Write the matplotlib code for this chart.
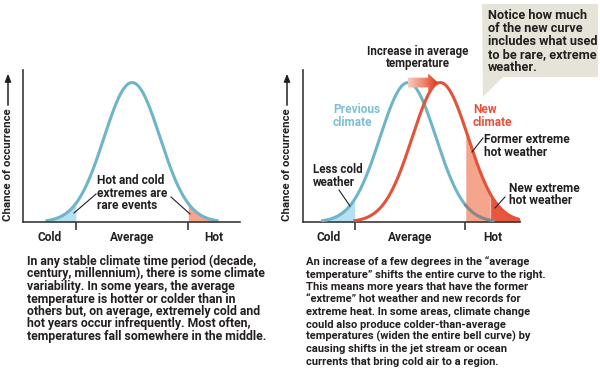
import matplotlib.pyplot as plt
import numpy as np
from matplotlib.patches import Polygon
from matplotlib.colors import LinearSegmentedColormap

plt.rcParams['font.family'] = ['Roboto', 'DejaVu Sans']
plt.rcParams['font.weight'] = 'bold'

# temperature measured in standard deviations of the previous climate
prev_mean = 0.0
new_mean = 1.15
spread = 1.0
curve_reach = 3.05          # where the bell curve fades to nothing
left_edges = [-2.0, 2.0]    # cold / hot extreme thresholds, left panel
right_edges = [-1.9, 2.05]  # same thresholds, right panel
record_edge = 2.95          # hottest weather the previous climate produced
left_xlim = (-3.9, 3.86)
right_xlim = (-3.75, 4.0)
region_labels = ['Cold', 'Average', 'Hot']

left_note = "Hot and cold\nextremes are\nrare events"
left_text = ("In any stable climate time period (decade,\n"
             "century, millennium), there is some climate\n"
             "variability. In some years, the average\n"
             "temperature is hotter or colder than in\n"
             "others but, on average, extremely cold and\n"
             "hot years occur infrequently. Most often,\n"
             "temperatures fall somewhere in the middle.")
right_text = ("An increase of a few degrees in the \u201caverage\n"
              "temperature\u201d shifts the entire curve to the right.\n"
              "This means more years that have the former\n"
              "\u201cextreme\u201d hot weather and new records for\n"
              "extreme heat. In some areas, climate change\n"
              "could also produce colder-than-average\n"
              "temperatures (widen the entire bell curve) by\n"
              "causing shifts in the jet stream or ocean\n"
              "currents that bring cold air to a region.")
callout = ("Notice how much\nof the new curve\nincludes what used\n"
           "to be rare, extreme\nweather.")

BLUE = '#6fb4c8'
BLUE_TEXT = '#7dc0d5'
BLUE_FILL = '#b4e0f3'
RED = '#e5523b'
SALMON = '#f4a58c'
DARK_RED = '#e8573d'
INK = '#231f20'
AXIS = '#3a3a3a'
FS = 8.6


def bell(x, mean):
    return np.exp(-0.5 * ((x - mean) / spread) ** 2)


def setup_panel(ax, xlim, edges):
    ax.set_xlim(*xlim)
    ax.set_ylim(0, 1.09)
    ax.patch.set_alpha(0)
    for side in ['top', 'right']:
        ax.spines[side].set_visible(False)
    for side in ['left', 'bottom']:
        ax.spines[side].set_color(AXIS)
        ax.spines[side].set_linewidth(1.2)
    ax.set_yticks([])
    ax.set_xticks(edges)
    ax.tick_params(axis='x', direction='out', length=6, width=1.2,
                   color=AXIS, labelbottom=False)
    mids = [(xlim[0] + edges[0]) / 2, (edges[0] + edges[1]) / 2,
            (edges[1] + xlim[1]) / 2]
    for m, lab in zip(mids, region_labels):
        ax.text(m, -0.1, lab, transform=ax.get_xaxis_transform(),
                ha='center', va='center', fontsize=FS, color=INK)


W, H = 600, 377
fig = plt.figure(figsize=(6, 3.77), dpi=100)
fig.patch.set_facecolor('white')


def px_rect(x0, y0, x1, y1):
    return [x0 / W, 1 - y1 / H, (x1 - x0) / W, (y1 - y0) / H]


# ---- left panel: one stable climate
axl = fig.add_axes(px_rect(23, 70, 240, 222))
setup_panel(axl, left_xlim, left_edges)
x = np.linspace(prev_mean - curve_reach, prev_mean + curve_reach, 400)
y = bell(x, prev_mean)
axl.fill_between(x, y, where=x <= left_edges[0], color=BLUE_FILL, lw=0)
axl.fill_between(x, y, where=x >= left_edges[1], color=SALMON, lw=0)
axl.plot(x, y, color=BLUE, lw=2.2, solid_capstyle='round')

# ---- right panel: shifted climate
axr = fig.add_axes(px_rect(303, 70, 520, 222))
setup_panel(axr, right_xlim, right_edges)
xp = np.linspace(prev_mean - curve_reach, prev_mean + curve_reach, 400)
yp = bell(xp, prev_mean)
xn = np.linspace(new_mean - curve_reach, right_xlim[1], 400)
yn = bell(xn, new_mean)
axr.fill_between(xp, yp, where=xp <= right_edges[0], color=BLUE_FILL, lw=0)
axr.fill_between(xn, yn, where=(xn >= right_edges[1]) & (xn <= record_edge),
                 color=SALMON, lw=0)
axr.fill_between(xn, yn, where=xn >= record_edge, color=DARK_RED, lw=0)
axr.plot(xp[xp <= right_edges[1]], yp[xp <= right_edges[1]],
         color=BLUE, lw=2.2, zorder=3)
axr.plot(xp[xp >= right_edges[1]], yp[xp >= right_edges[1]],
         color='#85878a', lw=2.2, zorder=3)
axr.plot(xn, yn, color=RED, lw=2.2, zorder=4)

# gradient arrow showing the shift of the average
ac = 1.0
bh, hh = 0.035, 0.065
tip = 1.07
hb = 0.72
arrow = Polygon([(prev_mean, ac - bh), (hb, ac - bh), (hb, ac - hh),
                 (tip, ac), (hb, ac + hh), (hb, ac + bh),
                 (prev_mean, ac + bh)], closed=True, fc='none', ec='none',
                transform=axr.transData)
axr.add_patch(arrow)
grad = LinearSegmentedColormap.from_list('g', ['#f7cbbd', '#f08a70', '#e0321f'])
img = axr.imshow(np.linspace(0, 1, 100)[None, :], cmap=grad, aspect='auto',
                 extent=(prev_mean, tip, ac - hh, ac + hh), zorder=5)
img.set_clip_path(arrow)
axr.set_xlim(*right_xlim)
axr.set_ylim(0, 1.09)

# ---- overlay for annotations, in pixel space
ov = fig.add_axes([0, 0, 1, 1])
ov.set_xlim(0, W)
ov.set_ylim(H, 0)
ov.axis('off')


def lines(x0, base, text, dy, size, color=INK, ha='left'):
    # one text per line so the spacing matches the original exactly
    for i, line in enumerate(text.split('\n')):
        ov.text(x0, base + i * dy, line, ha=ha, va='baseline',
                fontsize=size, color=color)


def ylabel(xc):
    ov.text(xc, 165, 'Chance of occurrence', rotation=90, ha='center',
            va='center', fontsize=FS - 0.4, color=INK)
    ov.annotate('', xy=(xc, 71), xytext=(xc, 108),
                arrowprops=dict(arrowstyle='-|>,head_length=0.45,head_width=0.18',
                                color=INK, lw=1.1))


ylabel(8)
ylabel(287)


def leader(x0, y0, x1, y1):
    ov.plot([x0, x1], [y0, y1], color=INK, lw=0.8)


lines(97, 184, left_note, 12.7, FS)
leader(96, 194, 74, 213)
leader(171, 197, 190, 214)

lines(418, 55, 'Increase in average\ntemperature', 12, 8.3, ha='center')
lines(333, 113, 'Previous\nclimate', 12.5, 8.6, color=BLUE_TEXT)
lines(473, 113, 'New\nclimate', 12.5, 8.6, color=RED)
lines(484, 143, 'Former extreme\nhot weather', 13, FS)
leader(483, 138, 472, 152)
lines(313, 173, 'Less cold\nweather', 13, 8.4)
leader(339, 190, 350, 206)
lines(509, 192, 'New extreme\nhot weather', 12.5, FS)
leader(505, 197, 495, 208)

ov.add_patch(Polygon([(482, 4), (598, 4), (598, 77), (503, 77), (483, 97)],
                     closed=True, fc='#e6e4d8', ec='none'))
lines(488, 19, callout, 13, 9.2)

lines(27, 265, left_text, 12.5, 8.8)
lines(306, 265, right_text, 12.5, 8.0)

fig.savefig('out.png', dpi=100)
